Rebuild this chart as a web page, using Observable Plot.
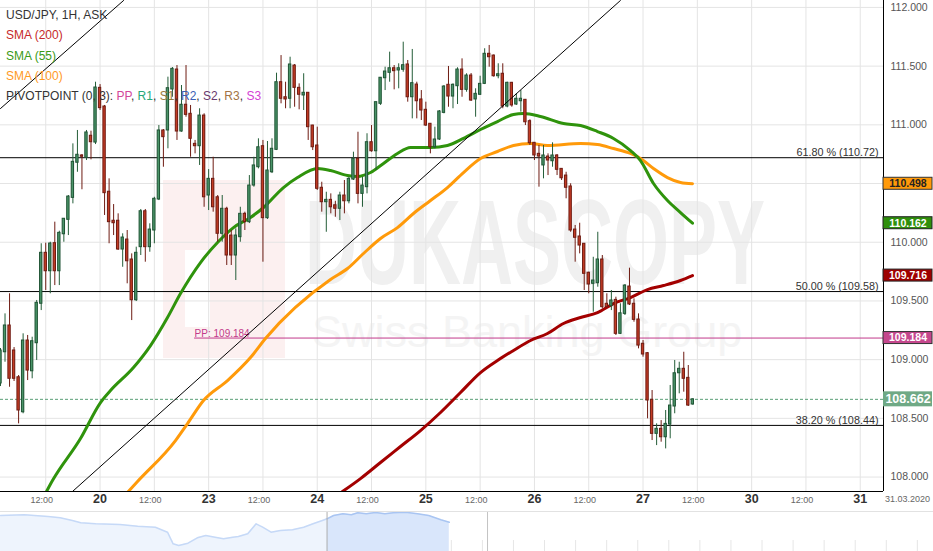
<!DOCTYPE html>
<html><head><meta charset="utf-8">
<script src="https://cdn.jsdelivr.net/npm/d3@7"></script>
<script src="https://cdn.jsdelivr.net/npm/@observablehq/plot@0.6"></script>
<style>
body{margin:0;background:#fff;font-family:"Liberation Sans",Arial,sans-serif;}
#wrap{position:relative;width:933px;height:551px;overflow:hidden;background:#fff;}
.abs{position:absolute;}
#legend{left:6px;top:5px;font-size:12px;line-height:20.3px;color:#333;white-space:nowrap;}
</style></head><body>
<div id="wrap">
  <div class="abs" style="left:163px;top:180px;width:122px;height:178px;background:#fcf0f0"></div>
  <div class="abs" style="left:185px;top:250px;width:25px;height:77px;background:#fff"></div>
  <div class="abs" style="left:305px;top:190px;font-size:120px;line-height:105px;height:105px;font-weight:bold;color:#f0f0f0;transform:scaleX(0.6);transform-origin:0 0;white-space:nowrap">DUKASCOPY</div>
  <div class="abs" style="left:312px;top:309px;font-size:45px;line-height:45px;color:#f4f4f4;white-space:nowrap">Swiss Banking Group</div>
  <div id="main" class="abs" style="left:0;top:0"></div>
  <div id="nav" class="abs" style="left:0;top:511px"></div>
  <div id="legend" class="abs">
    <div>USD/JPY, 1H, ASK</div>
    <div style="color:#c62a2a">SMA (200)</div>
    <div style="color:#3a9a16">SMA (55)</div>
    <div style="color:#ff9a1f">SMA (100)</div>
    <div>PIVOTPOINT (0, 3): <span style="color:#d3479a">PP</span>, <span style="color:#25a77a">R1</span>, <span style="color:#9a7a3a">S1</span>, <span style="color:#3b5fb5">R2</span>, <span style="color:#6a3a6e">S2</span>, <span style="color:#a27444">R3</span>, <span style="color:#d43fd4">S3</span></div>
  </div>
</div>
<script>
// ---- hourly candles (index 0 = 19.03 02:00, trading hours) ----
const openP = [108.797,109.063,109.291,109.078,108.850,108.552,109.163,108.901,109.140,109.476,
109.910,109.753,109.992,109.753,110.068,110.191,110.378,110.677,110.739,110.719,
110.907,110.849,111.315,111.156,110.430,110.183,110.183,109.938,110.023,109.853,
109.506,109.958,110.264,109.958,110.100,110.364,110.952,110.952,111.301,111.471,
110.943,111.171,111.094,110.838,110.818,111.079,110.398,110.540,110.383,110.072,
110.285,110.057,109.887,110.043,110.242,110.171,110.483,110.639,110.818,110.205,
110.596,110.787,111.363,111.235,111.222,111.505,111.315,111.250,111.273,110.994,
110.824,110.464,110.341,110.361,110.315,110.285,110.398,110.349,110.534,110.711,
110.412,110.469,110.852,110.775,111.179,111.397,111.443,111.482,111.463,111.469,
111.514,111.235,111.343,111.216,111.128,111.009,110.809,110.875,111.102,111.341,
111.241,111.329,111.471,111.298,111.420,111.216,111.256,111.349,111.605,111.590,
111.414,111.435,111.156,111.358,111.173,111.201,111.213,111.031,110.847,110.753,
110.654,110.730,110.690,110.739,110.625,110.568,110.475,110.108,110.049,109.987,
109.740,109.646,109.651,109.853,109.476,109.455,109.509,109.220,109.390,109.623,
109.476,109.342,109.135,109.055,108.658,108.368,108.411,108.339,108.447,108.601,
108.884,108.922,108.845,108.618];
const highP = [109.095,109.390,109.561,109.103,108.865,109.220,109.206,109.191,109.504,109.987,
109.992,110.000,110.171,110.094,110.202,110.398,110.838,110.952,110.747,110.952,
110.946,111.363,111.343,111.165,110.540,110.321,110.242,110.072,110.100,109.901,
109.958,110.279,110.279,110.157,110.383,110.994,110.960,111.406,111.488,111.505,
111.335,111.505,111.165,110.867,111.137,111.094,110.619,110.724,110.398,110.398,
110.298,110.100,110.114,110.298,110.256,110.568,110.724,110.881,110.867,110.858,
110.881,111.440,111.590,111.363,111.576,111.514,111.349,111.435,111.275,110.996,
110.980,110.511,110.426,110.412,110.349,110.426,110.526,110.554,110.767,110.937,
110.554,110.924,110.994,111.193,111.403,111.491,111.619,111.505,111.520,111.704,
111.548,111.642,111.363,111.292,111.193,111.011,110.980,111.122,111.335,111.497,
111.349,111.486,111.562,111.435,111.437,111.307,111.414,111.648,111.676,111.595,
111.520,111.520,111.363,111.361,111.264,111.292,111.216,111.043,110.849,110.824,
110.824,110.753,110.847,110.747,110.628,110.596,110.498,110.143,110.162,109.989,
109.745,109.872,110.085,109.887,109.561,109.589,109.532,109.476,109.640,109.779,
109.518,109.390,109.163,109.061,108.737,108.453,108.481,108.567,108.780,108.993,
108.978,109.063,108.950,108.666];
const lowP = [108.771,108.978,108.765,108.814,108.453,108.539,108.822,108.837,108.993,109.418,
109.589,109.561,109.631,109.631,110.000,110.057,110.327,110.596,110.447,110.696,
110.702,110.832,111.122,110.228,109.987,110.057,109.930,109.787,109.646,109.333,
109.495,109.887,109.830,109.915,109.987,110.355,110.639,110.796,111.235,110.867,
110.937,111.065,110.724,110.753,110.654,110.298,110.270,110.256,110.000,110.000,
109.802,109.802,109.674,110.000,110.100,110.159,110.469,110.625,109.830,110.194,
110.585,110.781,111.179,111.137,111.137,111.150,111.128,111.122,110.867,110.781,
110.441,110.256,110.085,110.242,110.213,110.185,110.242,110.327,110.526,110.327,
110.298,110.412,110.767,110.611,111.165,111.292,111.363,111.298,111.307,111.448,
111.193,111.051,111.051,111.037,110.986,110.753,110.796,110.867,111.094,111.150,
111.137,111.173,111.235,111.278,111.199,111.065,111.250,111.343,111.491,111.406,
111.392,111.137,111.145,111.150,111.165,111.108,110.994,110.824,110.696,110.469,
110.540,110.568,110.639,110.568,110.526,110.370,110.085,109.830,109.901,109.589,
109.561,109.404,109.617,109.433,109.444,109.418,109.206,109.214,109.376,109.461,
109.319,109.092,109.021,108.496,108.311,108.268,108.297,108.240,108.326,108.539,
108.709,108.723,108.601,108.612];
const closeP = [109.078,109.291,108.837,108.837,108.567,109.163,108.907,109.157,109.484,109.910,
109.753,109.989,109.753,110.080,110.200,110.389,110.685,110.745,110.728,110.935,
110.852,111.318,111.142,110.418,110.171,110.162,109.938,110.040,109.838,109.506,
109.910,110.264,109.958,110.108,110.370,110.952,110.895,111.312,111.477,110.943,
111.171,111.085,110.881,110.818,111.079,110.383,110.540,110.298,110.072,110.285,
109.887,109.887,110.057,110.242,110.171,110.483,110.654,110.809,110.205,110.611,
110.796,111.363,111.222,111.216,111.514,111.315,111.256,111.273,110.980,110.809,
110.455,110.341,110.361,110.298,110.285,110.398,110.349,110.540,110.711,110.412,
110.483,110.852,110.775,111.193,111.401,111.454,111.482,111.457,111.482,111.508,
111.235,111.355,111.201,111.122,110.994,110.809,110.875,111.114,111.326,111.241,
111.341,111.471,111.298,111.420,111.207,111.264,111.349,111.605,111.576,111.414,
111.431,111.156,111.358,111.165,111.222,111.222,111.022,110.843,110.739,110.730,
110.739,110.696,110.739,110.617,110.545,110.464,110.100,110.038,109.972,109.731,
109.640,109.674,109.853,109.447,109.447,109.504,109.220,109.395,109.631,109.470,
109.339,109.120,109.044,108.652,108.368,108.411,108.339,108.453,108.609,108.884,
108.922,108.837,108.609,108.662];

// ---- moving averages (index, price) ----
const sma55Idx = [10.17,11.49,17.68,22.10,24.31,29.39,33.15,36.91,39.78,44.20,47.96,51.49,55.25,58.12,62.54,65.64,70.06,72.93,76.69,78.90,81.77,84.64,87.73,90.61,95.03,98.78,102.32,106.08,109.83,113.37,115.58,119.34,124.42,128.18,131.93,135.47,139.23,141.44,144.31,147.40,150.28,152.93];
const sma55Val = [107.877,107.970,108.328,108.635,108.737,108.933,109.120,109.359,109.563,109.827,109.998,110.125,110.211,110.296,110.466,110.551,110.628,110.611,110.568,110.560,110.594,110.671,110.756,110.807,110.807,110.824,110.884,110.960,111.028,111.088,111.096,111.071,111.011,110.994,110.943,110.884,110.781,110.696,110.500,110.355,110.253,110.162];
const sma100Idx = [27.85,30.28,38.67,41.33,44.86,50.17,55.25,58.56,72.93,76.69,80.22,83.98,87.73,91.27,95.03,98.78,102.32,106.08,109.83,113.37,117.13,120.88,128.18,131.93,135.47,139.23,141.44,144.31,147.40,150.28,152.93];
const sma100Val = [107.860,107.962,108.311,108.456,108.652,108.822,109.018,109.180,109.683,109.776,109.904,110.032,110.125,110.245,110.355,110.466,110.594,110.713,110.773,110.824,110.841,110.824,110.841,110.832,110.798,110.756,110.713,110.628,110.551,110.509,110.498];
const sma200Idx = [75.58,79.56,83.98,88.40,92.82,97.24,101.66,106.08,109.83,113.37,117.13,120.88,124.42,128.18,131.93,135.47,139.23,142.98,146.52,150.28,152.93];
const sma200Val = [107.877,107.987,108.124,108.260,108.396,108.550,108.720,108.890,108.993,109.078,109.163,109.223,109.308,109.359,109.401,109.478,109.529,109.597,109.631,109.674,109.716];

// ---- drawn objects ----
const trendAIdx = [0, 27.2], trendAVal = [111.139, 112.059];
const trendBIdx = [15.91, 137.0], trendBVal = [107.877, 112.059];
const fibLevels = [110.72, 109.58, 108.44];
const fibLabels = ["61.80 % (110.72)", "50.00 % (109.58)", "38.20 % (108.44)"];
const ppLevel = 109.184, ppStartIdx = 42.9;
const lastPrice = 108.662;
const tagValues = [110.498, 110.162, 109.716, 109.184, 108.662];
const tagFills  = ["#ff9a0a", "#2f8f0c", "#9e0000", "#c5478d", "#6fa985"];
const tagStrokes= ["#333", "#222", "#222", "#333", "none"];
const tagInk    = ["#222", "#fff", "#fff", "#fff", "#fff"];

// ---- axes ----
const yTicks = [108, 108.5, 109, 109.5, 110, 110.5, 111, 111.5, 112];
const dayTicks = [22, 46, 70, 94, 118, 142, 166, 190];
const dayLabels = ["20", "23", "24", "25", "26", "27", "30", "31"];
const halfTicks = [10, 34, 58, 82, 106, 130, 154, 178];
const halfLabel = "12:00";
const endDate = "31.03.2020";

// ---- navigator (relative position %, level) ----
const navPos = [0,2.55,5.1,6.4,7.7,8.6,10.2,12.8,14.7,16.6,17.9,18.5,19.1,20.1,21.1,22.0,23.0,23.9,24.9,25.5,26.5,27.4,28.1,29.0,30.0,31.3,32.5,33.5,34.5,35.0];
const navLvl = [36,36.7,35,33.7,31,28.7,27.7,27,25.3,24.3,19.3,7.7,6,8.3,13.7,16,14.3,12.7,14.3,15,17.7,27.7,24.3,19.3,21,21.7,24.3,27.7,31,32.7];
const navSelPos = [35.0,35.7,36.7,37.6,38.3,39.2,40.2,41.2,42.1,43.4,44.7,45.9,47.2,48.1];
const navSelLvl = [32.7,36,37.7,36.7,38.7,37.7,39,37.7,38.7,39.3,37.7,36,31.7,29.3];

// ================= build =================
const xRight = 195.14, yBottom = 107.877, yTop = 112.059;
const pxX = xRight / 883, pxY = (yTop - yBottom) / 491;
const candles = openP.map((o, i) => ({i, o, h: highP[i], l: lowP[i], c: closeP[i], up: closeP[i] >= o}));
const ups = candles.filter(d => d.up), downs = candles.filter(d => !d.up);
const zip = (a, b) => a.map((v, k) => ({x: v, y: b[k]}));
const halfW = 0.26;
const tags = tagValues.map((v, k) => ({v, fill: tagFills[k], stroke: tagStrokes[k], ink: tagInk[k], big: k === 4}));
const font = "'Liberation Sans', Arial, sans-serif";

const main = Plot.plot({
  width: 933, height: 511,
  marginLeft: 0, marginRight: 50, marginTop: 0, marginBottom: 20,
  style: {background: "transparent", fontFamily: font, overflow: "visible"},
  x: {type: "linear", domain: [0, xRight], axis: null},
  y: {type: "linear", domain: [yBottom, yTop], axis: null},
  marks: [
    Plot.gridY(yTicks, {stroke: "#e4e4e4", strokeOpacity: 1}),
    Plot.gridX([...halfTicks, ...dayTicks], {stroke: "#e4e4e4", strokeOpacity: 1}),
    Plot.ruleY([lastPrice], {stroke: "#5a9e76", strokeDasharray: "3,2"}),
    Plot.ruleY(fibLevels, {stroke: "#000", strokeWidth: 1}),
    Plot.text(fibLevels, {x: xRight, y: d => d, text: (d, k) => fibLabels[k], textAnchor: "end", dx: -5, dy: -5, fontSize: 10.8, fill: "#333"}),
    Plot.ruleY([ppLevel], {x1: ppStartIdx, x2: xRight, stroke: "#c2398a"}),
    Plot.text([ppLevel], {x: ppStartIdx, y: d => d, text: d => "PP: " + d, textAnchor: "start", dy: -4, fontSize: 10, fill: "#c2398a"}),
    Plot.line(zip(sma200Idx, sma200Val), {x: "x", y: "y", stroke: "#a30000", strokeWidth: 3, curve: "monotone-x", clip: true}),
    Plot.line(zip(sma100Idx, sma100Val), {x: "x", y: "y", stroke: "#ff9a0a", strokeWidth: 3, curve: "monotone-x", clip: true}),
    Plot.line(zip(sma55Idx, sma55Val), {x: "x", y: "y", stroke: "#2f930c", strokeWidth: 3, curve: "monotone-x", clip: true}),
    Plot.ruleX(ups, {x: "i", y1: "l", y2: "h", stroke: "#245d38", clip: true}),
    Plot.ruleX(downs, {x: "i", y1: "l", y2: "h", stroke: "#6e1b12", clip: true}),
    Plot.rect(ups, {x1: d => d.i - halfW, x2: d => d.i + halfW, y1: "o", y2: "c", fill: "#4a9468", stroke: "#1f5334", clip: true}),
    Plot.rect(downs, {x1: d => d.i - halfW, x2: d => d.i + halfW, y1: "o", y2: "c", fill: "#c33b24", stroke: "#6e1b12", clip: true}),
    Plot.line(zip(trendAIdx, trendAVal), {x: "x", y: "y", stroke: "#000", strokeWidth: 1, clip: true}),
    Plot.line(zip(trendBIdx, trendBVal), {x: "x", y: "y", stroke: "#000", strokeWidth: 1, clip: true}),
    Plot.ruleX([xRight], {stroke: "#000"}),
    Plot.ruleY([yBottom], {stroke: "#000"}),
    Plot.axisY(yTicks, {anchor: "right", tickSize: 0, tickPadding: 7, tickFormat: d => d.toFixed(3), fontSize: 10.5, color: "#555", label: null}),
    Plot.axisX(dayTicks, {anchor: "bottom", tickSize: 0, tickPadding: 3, tickFormat: d => dayLabels[dayTicks.indexOf(d)], fontSize: 12.5, fontWeight: "bold", color: "#333", label: null}),
    Plot.axisX(halfTicks, {anchor: "bottom", tickSize: 0, tickPadding: 5, dx: -4, tickFormat: () => halfLabel, fontSize: 9, color: "#666", label: null}),
    Plot.text([endDate], {frameAnchor: "bottom-right", textAnchor: "middle", dx: 24, dy: 10, text: d => d, fontSize: 9, fill: "#666"}),
    Plot.rect(tags, {x1: xRight, x2: xRight + 49 * pxX, y1: d => d.v - (d.big ? 7.5 : 6) * pxY, y2: d => d.v + (d.big ? 7.5 : 6) * pxY, fill: d => d.fill, stroke: d => d.stroke}),
    Plot.text(tags, {x: xRight + 24.5 * pxX, y: "v", text: d => d.v.toFixed(3), fill: d => d.ink, fontSize: d => d.big ? 12.5 : 10.5, fontWeight: "bold"})
  ]
});
document.getElementById("main").appendChild(main);

const navAll = zip(navPos, navLvl), navSel = zip(navSelPos, navSelLvl);
const navTicks = d3.range(1.7, 100, 3.33);
const nav = Plot.plot({
  width: 933, height: 40, margin: 0,
  style: {background: "transparent"},
  x: {domain: [0, 100], axis: null},
  y: {domain: [0, 40], axis: null},
  marks: [
    Plot.ruleX(navTicks, {y1: 0, y2: 11, stroke: "#e6e6e6"}),
    Plot.areaY(navAll, {x: "x", y: "y", fill: "#eef4fd"}),
    Plot.lineY(navAll, {x: "x", y: "y", stroke: "#c6d9f7"}),
    Plot.areaY(navSel, {x: "x", y: "y", fill: "#d9e6fb"}),
    Plot.lineY(navSel, {x: "x", y: "y", stroke: "#a9c5f2"}),
    Plot.ruleX([navSelPos[0]], {stroke: "#b0b0b0"}),
    Plot.ruleX([52.2], {stroke: "#c4c4c4"}),
    Plot.ruleY([40], {stroke: "#e2e2e2"})
  ]
});
document.getElementById("nav").appendChild(nav);
</script>
</body></html>
